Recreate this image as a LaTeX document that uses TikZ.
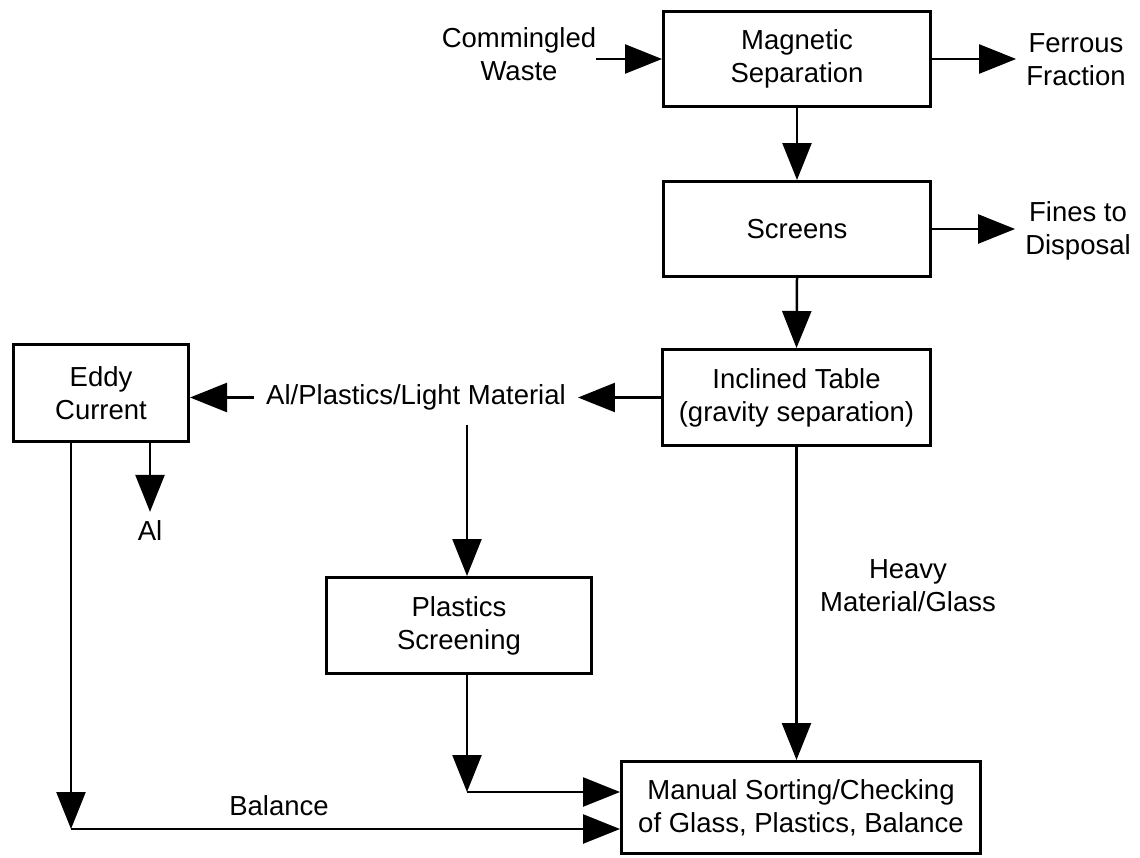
\documentclass[tikz,border=0pt]{standalone}
\usepackage{fontspec}
\setmainfont{Liberation Sans}
\usetikzlibrary{arrows.meta}
\begin{document}
\begin{tikzpicture}[x=1pt,y=-1pt,
  every node/.style={font=\fontsize{27.5}{33}\selectfont},
  box/.style={draw, line width=3pt, align=center, inner sep=0pt},
  lbl/.style={align=center, inner sep=0pt},
  arr/.style={line width=2.5pt, -{Triangle[length=37pt,width=29pt]}},
  ln/.style={line width=2.5pt}]
\useasboundingbox (0,0) rectangle (1140,857);

% process boxes
\node[box, minimum width=267pt, minimum height=95pt] (mag) at (797,59) {Magnetic\\Separation};
\node[box, minimum width=267pt, minimum height=95pt] (scr) at (797,229) {Screens};
\node[box, minimum width=268pt, minimum height=96pt] (tab) at (796.5,397.5) {Inclined Table\\(gravity separation)};
\node[box, minimum width=175pt, minimum height=97pt] (eddy) at (101,393) {Eddy\\Current};
\node[box, minimum width=265pt, minimum height=96pt] (ps) at (459,625.5) {Plastics\\Screening};
\node[box, minimum width=359pt, minimum height=92pt] (man) at (801,807.5) {Manual Sorting/Checking\\of Glass, Plastics, Balance};

% labels
\node[lbl] (cw) at (519,54) {Commingled\\Waste};
\node[lbl] (ff) at (1076,60) {Ferrous\\Fraction};
\node[lbl] (fd) at (1078,231) {Fines to\\Disposal};
\node[lbl, inner xsep=12pt] (lm) at (416,397.5) {Al/Plastics/Light Material};
\node[lbl, inner sep=9pt] (al) at (150,531) {Al};
\node[lbl] (hv) at (908,586) {Heavy\\Material/Glass};
\node[lbl] (bal) at (279,806) {Balance};

% helper coordinates
\coordinate (lmdrop) at (467,425);
\coordinate (psd) at (467,792);
\coordinate (bc) at (71,829);

% connectors
\draw[arr] (cw.east |- mag.west) -- (mag.west);
\draw[arr] (mag.east) -- ([xshift=-10pt]ff.west |- mag.east);
\draw[arr] (mag.south) -- (scr.north);
\draw[arr] (scr.east) -- ([xshift=-10pt]fd.west |- scr.east);
\draw[arr] (scr.south) -- (tab.north);
\draw[arr] (tab.west) -- (lm.east);
\draw[arr] (lm.west) -- (eddy.east |- lm.west);
\draw[arr] (lmdrop) -- (lmdrop |- ps.north);
\draw[arr] (al.north |- eddy.south) -- (al.north);
\draw[arr] (bc |- eddy.south) -- (bc);
\draw[arr] (bc) -- (bc -| man.west);
\draw[arr] (psd |- ps.south) -- (psd);
\draw[arr] (psd) -- (psd -| man.west);
\draw[arr] (tab.south) -- (tab.south |- man.north);
\end{tikzpicture}
\end{document}
